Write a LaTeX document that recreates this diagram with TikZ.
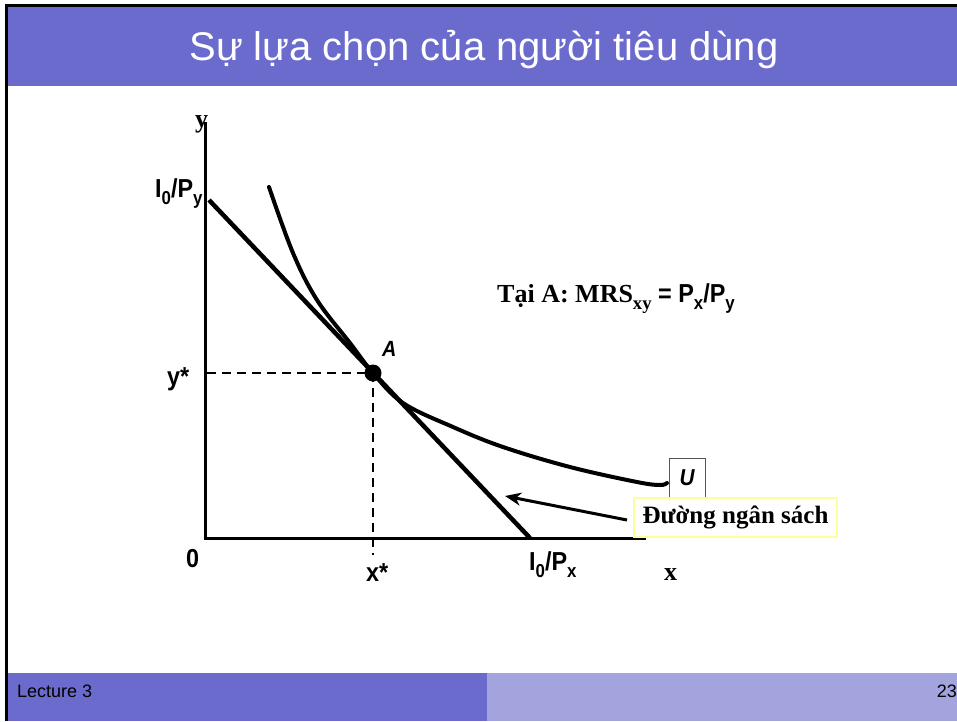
\documentclass[tikz,border=0pt]{standalone}
\usepackage{fontspec}
\setmainfont{Liberation Serif}
\newfontfamily\arialf{Liberation Sans}
\newfontfamily\condf[FakeStretch=0.9]{Liberation Sans}
\usetikzlibrary{arrows.meta}
\newcommand\lowsub[1]{\raisebox{-0.28em}{\scalebox{0.72}{#1}}}
\definecolor{band}{HTML}{6B6BCE}
\definecolor{bandlight}{HTML}{A3A3DE}
\definecolor{boxyellow}{HTML}{FFFF99}
\definecolor{boxgray}{HTML}{555555}
\tikzset{
  sanslab/.style={inner sep=0pt,font=\condf\bfseries\fontsize{26}{29}\selectfont},
  seriflab/.style={inner sep=0pt,font=\bfseries\fontsize{26}{29}\selectfont},
  axisline/.style={line width=3pt},
  thickcurve/.style={line width=4pt,line cap=round},
  guide/.style={line width=2pt,dash pattern=on 9pt off 6pt},
}
\begin{document}
\begin{tikzpicture}[x=1pt,y=-1pt]
\useasboundingbox (0,0) rectangle (957,721);
% frame, title band, footer
\fill[band] (8,7) rectangle (957,86);
\fill[band] (8,673) rectangle (487,721);
\fill[bandlight] (487,673) rectangle (957,721);
\draw[line width=3pt] (5,5.5) -- (957,5.5);
\draw[line width=3pt] (6.5,4) -- (6.5,721);
\node[inner sep=0pt,anchor=base,text=white,font=\arialf\fontsize{40}{48}\selectfont] (title) at (484,60) {Sự lựa chọn của người tiêu dùng};
\node[inner sep=0pt,anchor=base west,font=\arialf\fontsize{18}{21}\selectfont] (lecture) at (17,697) {Lecture 3};
\node[inner sep=0pt,anchor=base east,font=\arialf\fontsize{18}{21}\selectfont] (page) at (957,697) {23};
% axes
\coordinate (O) at (205,538);
\coordinate (ytop) at (205,122);
\coordinate (xend) at (646,538);
\draw[axisline] (ytop) -- (O) -- (xend);
% budget line
\coordinate (b1) at (209,200);
\coordinate (b2) at (530,538);
\draw[thickcurve,line cap=butt,line width=4.5pt] (b1) -- (b2);
% indifference curve
\draw[thickcurve] plot[smooth,tension=0.6] coordinates {(269,187) (293,253) (317,300) (350,343) (373,373) (403,403) (453,427) (503,447) (570,467) (637,482) (660,485) (667,483)};
% point A and guides
\node[circle,fill=black,minimum size=17pt,inner sep=0pt] (A) at (373,373) {};
\coordinate (yaxA) at (207,373);
\coordinate (xbelow) at (373,555);
\draw[guide] (yaxA) -- (A.center);
\draw[guide] (A.center) -- (xbelow);
% labels
\node[seriflab,anchor=base west] (ylab) at (195,127) {y};
\node[seriflab,anchor=base west] (xlab) at (664,580) {x};
\node[sanslab,anchor=base west] (I0Py) at (155,197) {I\lowsub{0}/P\lowsub{y}};
\node[sanslab,anchor=base west] (ystar) at (167,385) {y*};
\node[sanslab,anchor=base west] (zero) at (186,567) {0};
\node[sanslab,anchor=base west] (xstar) at (366,581) {x*};
\node[sanslab,anchor=base west] (I0Px) at (529,570) {I\lowsub{0}/P\lowsub{x}};
\node[sanslab,anchor=base west,font=\condf\bfseries\itshape\fontsize{22}{24}\selectfont] (Alab) at (382,356) {A};
\node[inner sep=0pt,anchor=base west] (mrs) at (497,302) {\bfseries\fontsize{26}{29}\selectfont Tại A: MRS\lowsub{xy} {\condf = P\lowsub{x}/P\lowsub{y}}};
% boxes
\node[draw=boxgray,line width=1pt,minimum width=36pt,minimum height=40pt,inner sep=0pt,font=\condf\bfseries\itshape\fontsize{23}{24}\selectfont] (U) at (687,478) {U};
\node[draw=boxyellow,line width=1.2pt,fill=white,minimum width=203pt,minimum height=39pt,inner sep=0pt,font=\bfseries\fontsize{25}{28}\selectfont] (budget) at (735.5,517.5) {Đường ngân sách};
% arrow
\coordinate (arrtail) at (627,520);
\coordinate (arrhead) at (505,496);
\draw[line width=3pt,-{Stealth[length=16pt,width=13pt,inset=5pt]}] (arrtail) -- (arrhead);
\end{tikzpicture}
\end{document}
